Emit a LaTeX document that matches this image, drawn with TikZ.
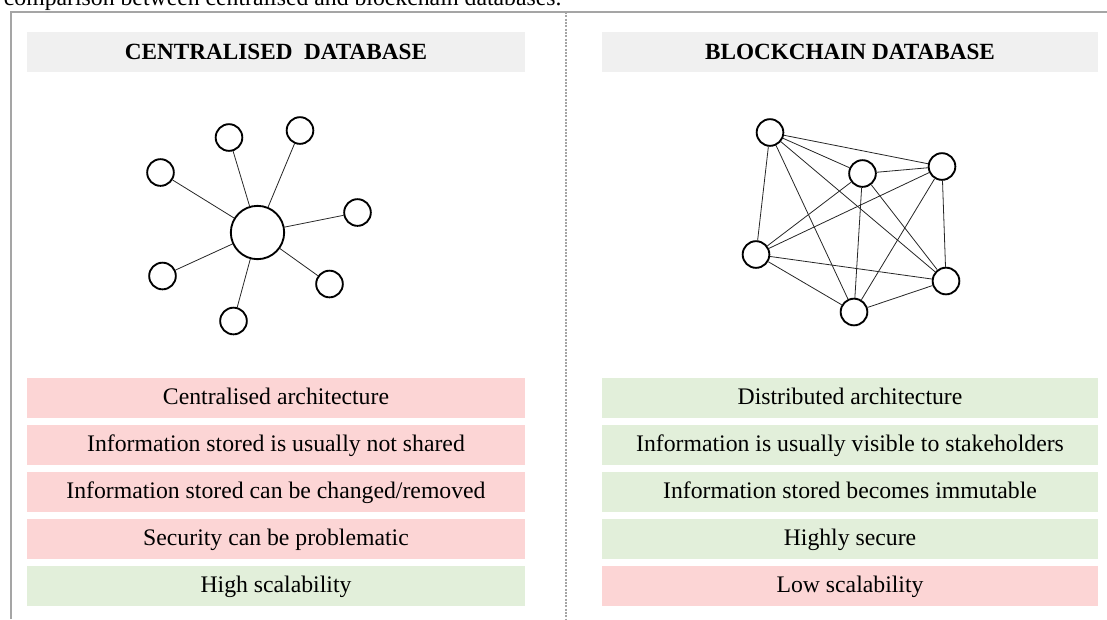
\documentclass[tikz,border=0pt]{standalone}
\usepackage{fontspec}
\setmainfont{Liberation Serif}

\definecolor{headgray}{RGB}{240,240,240}
\definecolor{conred}{RGB}{252,213,213}
\definecolor{progreen}{RGB}{226,239,218}
\definecolor{framegray}{RGB}{165,165,165}

\tikzset{every picture/.style={line width=0.75pt}}
\tikzset{
	peer/.style={circle, draw, line width=1.4pt, minimum size=20pt, inner sep=0pt},
	hub/.style={circle, draw, line width=1.4pt, minimum size=40pt, inner sep=0pt},
	link/.style={draw=black!85, line width=0.6pt},
	headbox/.style={fill=headgray, minimum height=30pt, inner sep=0pt, text height=14pt, text depth=3pt, font=\fontsize{17.4}{20}\selectfont\bfseries},
	rowbox/.style={minimum height=30pt, inner sep=0pt, text height=15pt, text depth=4pt, font=\fontsize{17.8}{20}\selectfont},
	leftcol/.style={minimum width=373.5pt},
	rightcol/.style={minimum width=372pt},
	con/.style={rowbox, fill=conred},
	pro/.style={rowbox, fill=progreen}}

\begin{document}
\begin{tikzpicture}[x=0.75pt,y=0.75pt,yscale=-1,xscale=1]
	\path[use as bounding box] (0,0) rectangle (1107,619);

	% Text Node
	\node[anchor=base west, font=\fontsize{17.8}{20}\selectfont] (caption) at (-1,5) {comparison between centralised and blockchain databases.};

	%Frame lines
	\draw[framegray, line width=1.5pt] (11,619) -- (11,12) -- (1107,12) ;
	\draw[framegray, line width=1.5pt, dash pattern=on 1.5pt off 1pt] (566,12) -- (566,619) ;

	% Text Node
	\node[headbox, leftcol] (cdHead) at (276,52) {CENTRALISED\ \ DATABASE};
	% Text Node
	\node[headbox, rightcol] (bcHead) at (850,52) {BLOCKCHAIN DATABASE};

	%Shape: Circle
	\node[hub] (cdHub) at (257.5,232.5) {};
	\node[peer] (cdA) at (229,137.5) {};
	\node[peer] (cdB) at (300,130.5) {};
	\node[peer] (cdC) at (160.5,172.5) {};
	\node[peer] (cdD) at (357.5,212.5) {};
	\node[peer] (cdE) at (162.5,276) {};
	\node[peer] (cdF) at (329.5,284) {};
	\node[peer] (cdG) at (233.5,321) {};
	%Straight Lines
	\draw[link] (cdHub) -- (cdA) ;
	\draw[link] (cdHub) -- (cdB) ;
	\draw[link] (cdHub) -- (cdC) ;
	\draw[link] (cdHub) -- (cdD) ;
	\draw[link] (cdHub) -- (cdE) ;
	\draw[link] (cdHub) -- (cdF) ;
	\draw[link] (cdHub) -- (cdG) ;

	%Shape: Circle
	\node[peer] (bcA) at (770,132.5) {};
	\node[peer] (bcB) at (862.5,173.5) {};
	\node[peer] (bcC) at (942,166.5) {};
	\node[peer] (bcD) at (756,254.5) {};
	\node[peer] (bcE) at (946,281) {};
	\node[peer] (bcF) at (854,312) {};
	%Straight Lines
	\draw[link] (bcA) -- (bcB) ;
	\draw[link] (bcA) -- (bcC) ;
	\draw[link] (bcA) -- (bcD) ;
	\draw[link] (bcA) -- (bcE) ;
	\draw[link] (bcA) -- (bcF) ;
	\draw[link] (bcB) -- (bcC) ;
	\draw[link] (bcB) -- (bcD) ;
	\draw[link] (bcB) -- (bcE) ;
	\draw[link] (bcB) -- (bcF) ;
	\draw[link] (bcC) -- (bcD) ;
	\draw[link] (bcC) -- (bcE) ;
	\draw[link] (bcC) -- (bcF) ;
	\draw[link] (bcD) -- (bcE) ;
	\draw[link] (bcD) -- (bcF) ;
	\draw[link] (bcE) -- (bcF) ;

	% Text Node
	\node[con, leftcol] (cdArch) at (276,397.5) {Centralised architecture};
	\node[con, leftcol] (cdShare) at (276,444.5) {Information stored is usually not shared};
	\node[con, leftcol] (cdChange) at (276,491.5) {Information stored can be changed/removed};
	\node[con, leftcol] (cdSec) at (276,538.5) {Security can be problematic};
	\node[pro, leftcol] (cdScale) at (276,585.5) {High scalability};

	% Text Node
	\node[pro, rightcol] (bcArch) at (850,397.5) {Distributed architecture};
	\node[pro, rightcol] (bcShare) at (850,444.5) {Information is usually visible to stakeholders};
	\node[pro, rightcol] (bcChange) at (850,491.5) {Information stored becomes immutable};
	\node[pro, rightcol] (bcSec) at (850,538.5) {Highly secure};
	\node[con, rightcol] (bcScale) at (850,585.5) {Low scalability};

\end{tikzpicture}
\end{document}
